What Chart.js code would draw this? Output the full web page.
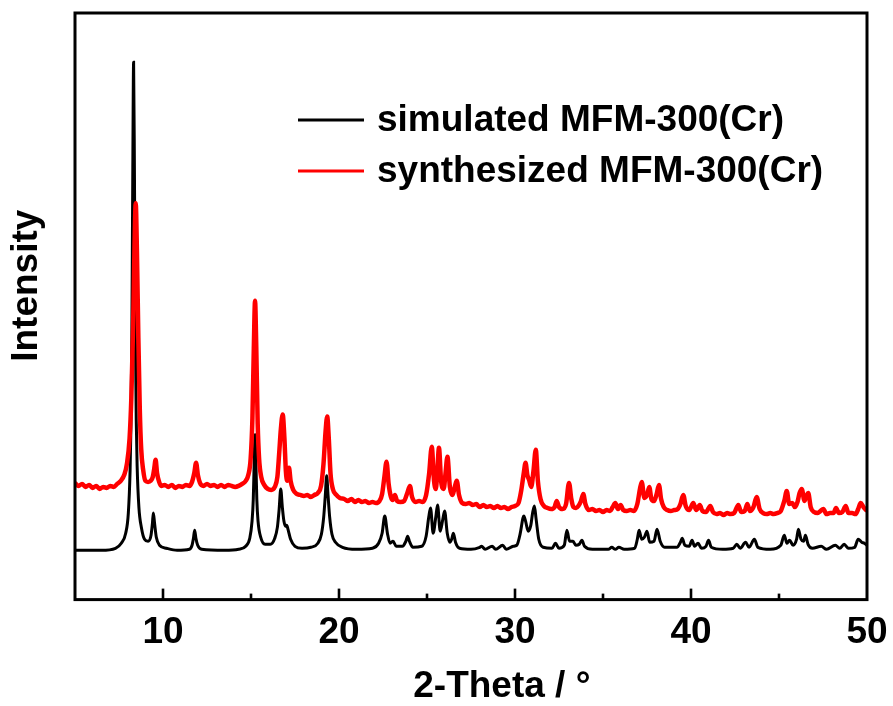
<!DOCTYPE html>
<html>
<head>
<meta charset="utf-8">
<script src="https://cdn.jsdelivr.net/npm/chart.js@4.4.1/dist/chart.umd.min.js"></script>
<style>
  html, body { margin: 0; padding: 0; background: #fff; }
  #wrap { width: 893px; height: 706px; }
</style>
</head>
<body>
<div id="wrap"><canvas id="xrdChart" width="893" height="706"></canvas></div>
<script>
// simulated pattern (2-theta, intensity a.u.)
const simTheta = [
  5.0, 6.5, 7.3, 7.63, 7.88, 8.03, 8.13, 8.18, 8.23, 8.28,
  8.33, 8.38, 8.43, 8.48, 8.53, 8.63, 8.78, 8.95, 9.15, 9.32,
  9.4, 9.45, 9.52, 9.62, 9.8, 10.2, 10.8, 11.5, 11.65, 11.73,
  11.8, 11.87, 11.97, 12.2, 13.5, 14.3, 14.7, 14.93, 15.06, 15.13,
  15.18, 15.23, 15.28, 15.33, 15.4, 15.55, 15.8, 16.1, 16.35, 16.5,
  16.6, 16.69, 16.78, 16.87, 16.96, 17.03, 17.1, 17.25, 17.5, 17.9,
  18.4, 18.8, 19.0, 19.13, 19.22, 19.3, 19.38, 19.47, 19.6, 19.8,
  20.2, 21.0, 21.9, 22.25, 22.45, 22.6, 22.75, 22.9, 23.07, 23.25,
  23.6, 23.8, 23.9, 24.0, 24.2, 24.7, 24.95, 25.1, 25.2, 25.35,
  25.5, 25.6, 25.75, 25.9, 26.0, 26.15, 26.3, 26.4, 26.5, 26.62,
  26.85, 27.5, 28.0, 28.1, 28.3, 28.7, 28.9, 29.3, 29.5, 29.9,
  30.1, 30.3, 30.45, 30.5, 30.6, 30.75, 30.9, 31.0, 31.1, 31.2,
  31.35, 31.6, 32.1, 32.3, 32.5, 32.8, 32.95, 33.1, 33.3, 33.45,
  33.65, 33.8, 33.95, 34.4, 35.3, 35.5, 35.7, 35.9, 36.2, 36.8,
  36.95, 37.05, 37.2, 37.35, 37.5, 37.65, 37.9, 38.07, 38.25, 38.5,
  39.2, 39.4, 39.5, 39.65, 39.9, 40.06, 40.2, 40.4, 40.6, 40.85,
  41.0, 41.15, 41.8, 42.4, 42.6, 42.8, 43.1, 43.3, 43.6, 43.8,
  44.5, 45.1, 45.3, 45.45, 45.6, 45.8, 46.0, 46.1, 46.25, 46.4,
  46.5, 46.65, 46.9, 47.4, 47.7, 48.2, 48.45, 48.7, 48.95, 49.3,
  49.5, 49.7, 49.85, 50.0
];
const simIntensity = [
  49, 49, 51, 56, 66, 86, 128, 174, 262, 415,
  534, 416, 265, 178, 133, 92, 71, 60, 58, 64,
  76, 86, 76, 62, 54, 51, 49, 50, 54, 61,
  69, 61, 54, 50, 49, 50, 53, 61, 78, 100,
  135, 164, 135, 100, 78, 62, 55, 55, 61, 72,
  90, 110, 92, 78, 73, 74, 70, 60, 53, 51,
  52, 56, 65, 82, 103, 123, 103, 82, 65, 57,
  52, 50, 51, 56, 66, 83, 66, 56, 58, 53,
  53, 58, 63, 58, 52, 53, 63, 82, 91, 66,
  82, 94, 68, 80, 88, 66, 57, 60, 66, 57,
  51, 50, 52, 53, 50, 53, 50, 54, 50, 53,
  54, 66, 81, 83, 78, 68, 74, 86, 93, 80,
  60, 52, 51, 56, 51, 54, 69, 58, 58, 54,
  55, 59, 53, 50, 50, 52, 50, 52, 50, 51,
  60, 69, 60, 62, 68, 57, 58, 70, 58, 52,
  52, 57, 61, 54, 53, 59, 53, 56, 51, 53,
  59, 52, 50, 51, 55, 51, 57, 52, 60, 52,
  50, 54, 64, 56, 59, 54, 60, 70, 60, 58,
  64, 55, 51, 53, 50, 54, 51, 55, 51, 52,
  60, 57, 56, 54
];

// synthesized sample, measured pattern
const synTheta = [
  5.0, 5.2, 5.4, 5.6, 5.8, 6.0, 6.2, 6.4, 6.6, 6.8,
  7.0, 7.2, 7.4, 7.6, 7.8, 7.95, 8.1, 8.2, 8.3, 8.38,
  8.45, 8.52, 8.6, 8.68, 8.76, 8.88, 9.0, 9.15, 9.3, 9.42,
  9.5, 9.58, 9.66, 9.78, 9.9, 10.1, 10.3, 10.5, 10.7, 10.9,
  11.1, 11.3, 11.5, 11.65, 11.78, 11.88, 11.98, 12.1, 12.3, 12.5,
  12.7, 12.9, 13.1, 13.3, 13.5, 13.7, 13.9, 14.1, 14.3, 14.5,
  14.7, 14.85, 14.98, 15.08, 15.16, 15.23, 15.3, 15.38, 15.46, 15.58,
  15.75, 15.95, 16.15, 16.35, 16.5, 16.6, 16.7, 16.8, 16.9, 16.98,
  17.06, 17.16, 17.25, 17.4, 17.6, 17.8, 18.0, 18.2, 18.4, 18.6,
  18.8, 18.98, 19.12, 19.24, 19.33, 19.42, 19.52, 19.65, 19.85, 20.05,
  20.3, 20.5, 20.7, 20.9, 21.1, 21.3, 21.5, 21.7, 21.9, 22.1,
  22.3, 22.45, 22.58, 22.7, 22.82, 22.95, 23.05, 23.18, 23.3, 23.5,
  23.7, 23.88, 24.03, 24.15, 24.35, 24.55, 24.75, 24.95, 25.12, 25.27,
  25.4, 25.5, 25.58, 25.68, 25.8, 25.95, 26.05, 26.16, 26.3, 26.45,
  26.58, 26.69, 26.82, 27.0, 27.2, 27.4, 27.6, 27.8, 28.0, 28.2,
  28.4, 28.6, 28.8, 29.0, 29.2, 29.4, 29.6, 29.8, 30.0, 30.2,
  30.35, 30.5, 30.6, 30.7, 30.8, 30.92, 31.05, 31.18, 31.3, 31.45,
  31.65, 31.85, 32.05, 32.25, 32.37, 32.5, 32.7, 32.9, 33.07, 33.2,
  33.32, 33.47, 33.6, 33.75, 33.88, 34.0, 34.2, 34.4, 34.6, 34.8,
  35.0, 35.2, 35.4, 35.55, 35.7, 35.85, 36.0, 36.15, 36.35, 36.55,
  36.75, 36.95, 37.1, 37.2, 37.35, 37.5, 37.63, 37.75, 37.9, 38.05,
  38.18, 38.3, 38.45, 38.65, 38.85, 39.05, 39.25, 39.4, 39.56, 39.7,
  39.9, 40.13, 40.3, 40.5, 40.65, 40.85, 41.1, 41.25, 41.45, 41.65,
  41.85, 42.05, 42.25, 42.45, 42.69, 42.85, 43.05, 43.2, 43.35, 43.55,
  43.73, 43.9, 44.1, 44.3, 44.5, 44.7, 44.9, 45.1, 45.3, 45.44,
  45.58, 45.75, 45.9, 46.05, 46.17, 46.29, 46.45, 46.58, 46.66, 46.8,
  47.0, 47.2, 47.35, 47.52, 47.7, 47.9, 48.1, 48.24, 48.4, 48.6,
  48.79, 48.95, 49.15, 49.35, 49.5, 49.64, 49.8, 50.0
];
const synIntensity = [
  116, 113, 115, 112, 114, 111, 113, 110, 112, 111,
  113, 112, 115, 118, 124, 135, 160, 200, 270, 350,
  394, 345, 260, 190, 150, 128, 118, 117, 118, 122,
  130, 139, 126, 117, 113, 114, 112, 114, 111, 113,
  112, 114, 113, 117, 126, 136, 124, 116, 113, 115,
  113, 114, 112, 114, 112, 114, 113, 112, 113, 115,
  118, 124, 140, 180, 250, 297, 250, 175, 140, 122,
  114, 110, 109, 112, 122, 145, 170, 184, 160, 128,
  118, 131, 118, 109, 105, 104, 103, 104, 102, 104,
  106, 113, 135, 168, 182, 160, 125, 110, 104, 101,
  100, 98, 100, 97, 99, 97, 98, 96, 97, 96,
  98, 105, 122, 137, 115, 102, 99, 104, 98, 97,
  98, 106, 113, 102, 97, 98, 97, 104, 125, 152,
  118, 110, 125, 151, 118, 110, 125, 142, 112, 104,
  112, 118, 104, 96, 95, 96, 94, 95, 92, 94,
  92, 93, 91, 93, 91, 92, 90, 92, 93, 96,
  108, 126, 136, 124, 119, 112, 128, 149, 118, 100,
  93, 91, 90, 92, 98, 92, 90, 95, 116, 100,
  92, 91, 93, 98, 105, 95, 89, 90, 88, 89,
  87, 89, 88, 92, 96, 90, 94, 89, 88, 89,
  88, 95, 110, 117, 101, 104, 112, 100, 98, 105,
  114, 100, 92, 89, 88, 89, 90, 95, 104, 93,
  89, 96, 89, 94, 88, 87, 93, 87, 85, 86,
  84, 86, 85, 86, 94, 87, 88, 95, 88, 92,
  102, 90, 86, 85, 86, 85, 86, 88, 98, 108,
  95, 96, 92, 97, 106, 110, 98, 104, 106, 92,
  87, 86, 88, 90, 85, 86, 86, 91, 86, 87,
  93, 86, 86, 85, 90, 96, 92, 88
];

const seriesLabels = ['simulated MFM-300(Cr)', 'synthesized MFM-300(Cr)'];
const seriesColors = ['#000000', '#ff0000'];

const FONT = "'Liberation Sans', Arial, sans-serif";

function toPoints(xs, ys) {
  return xs.map((t, i) => ({ x: t, y: ys[i] }));
}

// box around the plot plus inward ticks on the bottom axis
const frameTicks = {
  id: 'frameTicks',
  afterDatasetsDraw(chart) {
    const { ctx, chartArea: a, scales: { x } } = chart;
    ctx.save();
    ctx.strokeStyle = '#000';
    ctx.lineWidth = 3;
    ctx.strokeRect(a.left, a.top, a.right - a.left, a.bottom - a.top);
    ctx.lineWidth = 2.6;
    x.ticks.forEach(t => {
      if (t.value <= x.min || t.value >= x.max) return;
      const px = x.getPixelForValue(t.value);
      const len = t.value % 10 === 0 ? 11 : 6;
      ctx.beginPath();
      ctx.moveTo(px, a.bottom);
      ctx.lineTo(px, a.bottom - len);
      ctx.stroke();
    });
    ctx.restore();
  }
};

// legend inside the plot, top right
const lineLegend = {
  id: 'lineLegend',
  afterDraw(chart) {
    const { ctx } = chart;
    ctx.save();
    ctx.font = 'bold 37px ' + FONT;
    ctx.textBaseline = 'middle';
    chart.data.datasets.forEach((ds, i) => {
      const y = 120 + i * 51;
      ctx.strokeStyle = ds.borderColor;
      ctx.lineWidth = 3;
      ctx.beginPath();
      ctx.moveTo(298, y);
      ctx.lineTo(364, y);
      ctx.stroke();
      ctx.fillStyle = '#000';
      ctx.fillText(ds.label, 377, y + 1);
    });
    ctx.restore();
  }
};

const ctx = document.getElementById('xrdChart').getContext('2d');
const xrdChart = new Chart(ctx, {
  type: 'line',
  data: {
    datasets: [
      {
        label: seriesLabels[0],
        data: toPoints(simTheta, simIntensity),
        borderColor: seriesColors[0],
        borderWidth: 3,
        pointRadius: 0,
        cubicInterpolationMode: 'monotone',
        order: 1
      },
      {
        label: seriesLabels[1],
        data: toPoints(synTheta, synIntensity),
        borderColor: seriesColors[1],
        borderWidth: 4.5,
        pointRadius: 0,
        cubicInterpolationMode: 'monotone',
        order: 0
      }
    ]
  },
  options: {
    responsive: false,
    animation: false,
    layout: { padding: { left: 0, right: 26, top: 13, bottom: 0 } },
    plugins: {
      legend: { display: false },
      tooltip: { enabled: false }
    },
    scales: {
      x: {
        type: 'linear',
        min: 5,
        max: 50,
        grid: { display: false, drawTicks: false },
        border: { display: false },
        ticks: {
          stepSize: 5,
          autoSkip: false,
          maxRotation: 0,
          padding: 11,
          color: '#000',
          font: { family: FONT, size: 37, weight: 'bold' },
          callback: v => (v % 10 === 0 ? v : '')
        },
        title: {
          display: true,
          // leading spaces push the centred title a little to the right
          text: '      2-Theta / °',
          color: '#000',
          font: { family: FONT, size: 37, weight: 'bold', lineHeight: 1 },
          padding: { top: 2, bottom: 1 }
        },
        afterFit(scale) {
          scale.paddingLeft = 0;
          scale.paddingRight = 0;
        }
      },
      y: {
        min: 0,
        max: 583,
        grid: { display: false, drawTicks: false },
        border: { display: false },
        ticks: { display: false },
        title: {
          display: true,
          text: '    Intensity',
          color: '#000',
          font: { family: FONT, size: 37, weight: 'bold' },
          padding: { top: 5, bottom: 25.6 }
        }
      }
    }
  },
  plugins: [frameTicks, lineLegend]
});
</script>
</body>
</html>
